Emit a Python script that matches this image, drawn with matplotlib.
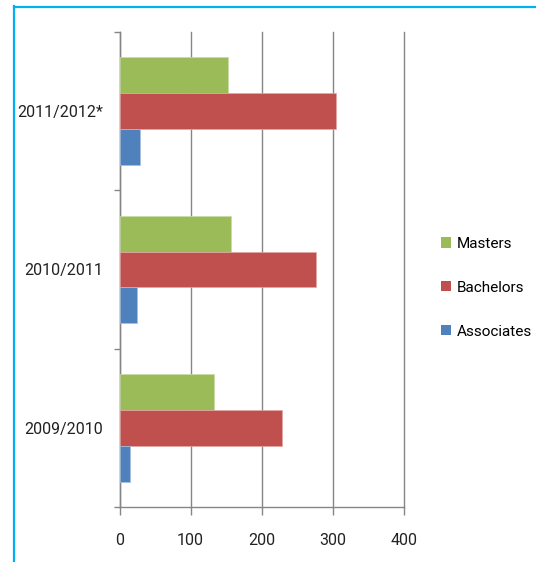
import numpy as np
import matplotlib
matplotlib.use("Agg")
import matplotlib.pyplot as plt
from matplotlib.patches import Patch
from matplotlib.lines import Line2D

years = ["2009/2010", "2010/2011", "2011/2012*"]
masters = [133, 157, 152]
bachelors = [229, 276, 304]
associates = [15, 25, 29]
series_names = ["Masters", "Bachelors", "Associates"]
series_colors = ["#9BBB59", "#C0504D", "#4F81BD"]

plt.rcParams['font.family'] = ['Roboto', 'DejaVu Sans']

fig = plt.figure(figsize=(5.36, 5.62), dpi=100)
ax = fig.add_axes([0.223, 0.098, 0.531, 0.845])

y = np.arange(len(years))
h = 0.2265
ax.barh(y + h, masters, height=h, color=series_colors[0], edgecolor="#c9dca6", linewidth=0.5, zorder=3)
ax.barh(y, bachelors, height=h, color=series_colors[1], edgecolor="#e4a8a6", linewidth=0.5, zorder=3)
ax.barh(y - h, associates, height=h, color=series_colors[2], edgecolor="#a7c0de", linewidth=0.5, zorder=3)

ax.set_xlim(0, 400)
ax.set_ylim(-0.5, len(years) - 0.5)
ax.set_xticks([0, 100, 200, 300, 400])
ax.set_yticks(y)
ax.set_yticklabels(years)
ax.set_yticks(np.arange(-0.5, len(years)), minor=True)

gray = "#868686"
txt = "#222222"
ax.grid(axis="x", color=gray, linewidth=1.0, zorder=0)
# keep the last gridline (at 400) fully drawn on the axes edge
for gl in ax.get_xgridlines():
    gl.set_clip_on(False)
for s in ["top", "right"]:
    ax.spines[s].set_visible(False)
for s in ["left", "bottom"]:
    ax.spines[s].set_color(gray)
    ax.spines[s].set_linewidth(1.0)
ax.tick_params(axis="y", which="major", length=0, pad=12, labelsize=11.5, labelcolor=txt)
ax.tick_params(axis="y", which="minor", length=4, color=gray, width=1.0)
ax.tick_params(axis="x", length=6, color=gray, width=1.0, pad=13, labelsize=11.5, labelcolor=txt)

handles = [Patch(facecolor=c, edgecolor="none") for c in series_colors]
fig.legend(handles, series_names, loc="center left", bbox_to_anchor=(0.823, 0.488),
           frameon=False, fontsize=11, handlelength=0.65, handleheight=0.65,
           handletextpad=0.35, labelspacing=1.95, borderaxespad=0, borderpad=0)

# blue frame along the top and left edge
frame_color = "#00B0F0"
fig.add_artist(Line2D([14.5 / 536, 14.5 / 536], [0, 1 - 6 / 562], color=frame_color,
                      linewidth=1.6, transform=fig.transFigure))
fig.add_artist(Line2D([14 / 536, 1], [1 - 6.5 / 562, 1 - 6.5 / 562], color=frame_color,
                      linewidth=1.6, transform=fig.transFigure))

fig.savefig("out.png", dpi=100)
